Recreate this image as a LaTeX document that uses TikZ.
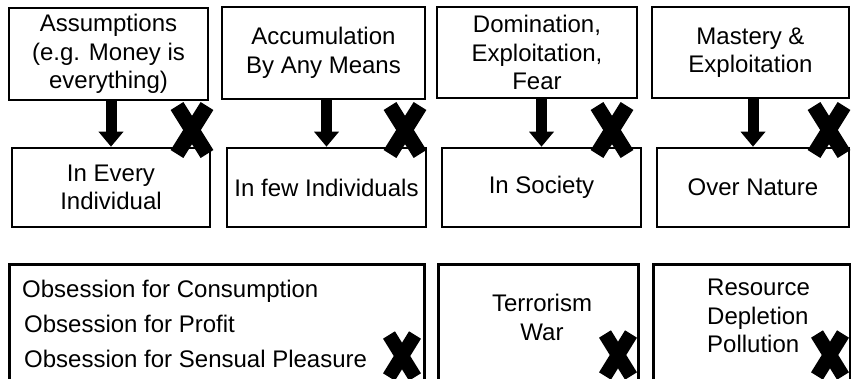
\documentclass[tikz,border=0pt]{standalone}
\usepackage{fontspec}
\setmainfont{Liberation Sans}
\usetikzlibrary{arrows.meta,positioning}

\begin{document}
\begin{tikzpicture}[x=1pt,y=-1pt,
    box/.style={draw,line width=2.6pt,inner sep=0pt,align=center,
      font=\fontsize{24}{28.5}\selectfont},
    lbl/.style={inner sep=0pt,font=\fontsize{24}{28.5}\selectfont},
    down/.style={line width=11pt,-{Triangle[width=24pt,length=15pt]}},
    cross/.style={line width=15pt,line cap=butt}]
    \useasboundingbox (0,0) rectangle (851,378);
    \clip (0,0) rectangle (851,378);
    % causes
    \node[box,minimum width=199,minimum height=92] (a1) at (108.5,54) {Assumptions\\(e.g. Money is\\everything)};
    \node[box,minimum width=203,minimum height=92] (a2) at (323.5,53) {Accumulation\\By Any Means};
    \node[box,minimum width=200,minimum height=91] (a3) at (537,52.5) {Domination,\\Exploitation,\\Fear};
    \node[box,minimum width=197,minimum height=91] (a4) at (750.5,52.5) {Mastery \&\\Exploitation};
    % where they act
    \node[box,minimum width=198,minimum height=79] (b1) at (111,187.5) {In Every\\Individual};
    \node[box,minimum width=199,minimum height=79] (b2) at (326.5,187.5) {In few Individuals};
    \node[box,minimum width=199,minimum height=79] (b3) at (541.5,187.5) {In Society};
    \node[box,minimum width=192,minimum height=79] (b4) at (753,187.5) {Over Nature};
    \foreach \i in {1,...,4}
      \draw[down] (b\i.north |- a\i.south) -- (b\i.north);
    % results
    \node[box,minimum width=415,minimum height=140,anchor=north west] (c1) at (8,263) {};
    \node[box,minimum width=200,minimum height=140,anchor=north west] (c2) at (437,263) {};
    \node[box,minimum width=197,minimum height=140,anchor=north west] (c3) at (652,263) {};
    \node[lbl,align=left,font=\fontsize{24}{35}\selectfont,anchor=north west]
      (c1txt) at (22,280) {Obsession for Consumption\\\hspace{2pt}Obsession for Profit\\\hspace{2pt}Obsession for Sensual Pleasure};
    \node[lbl,align=center,anchor=north] (c2txt) at (542,294) {Terrorism\\War};
    \node[lbl,align=left,anchor=north west] (c3txt) at (707,279) {Resource\\Depletion\\Pollution};
    % crosses
    \foreach \cx/\cy in {192/130,405/130,612/130,829/130}
      \draw[cross] (\cx-15,\cy-24) -- (\cx+15,\cy+24) (\cx+15,\cy-24) -- (\cx-15,\cy+24);
    \foreach \cx/\cy in {402/356,618/355,830/355}
      \draw[cross,line width=14pt] (\cx-13,\cy-21) -- (\cx+13,\cy+21) (\cx+13,\cy-21) -- (\cx-13,\cy+21);
\end{tikzpicture}
\end{document}
